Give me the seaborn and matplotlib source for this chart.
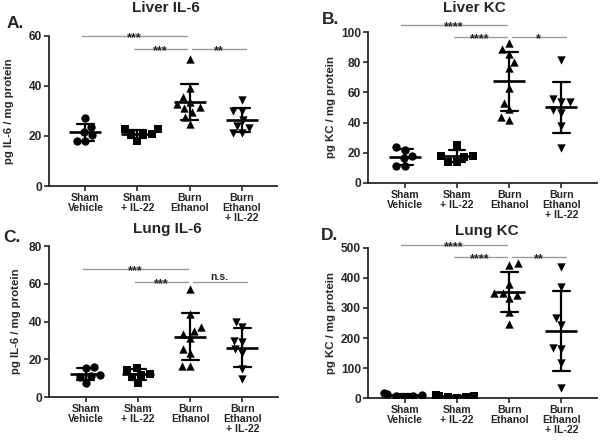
import numpy as np
import pandas as pd
import matplotlib
matplotlib.use("Agg")
import matplotlib.pyplot as plt
import seaborn as sns

# ---------------- data ----------------
groups = ["Sham\nVehicle", "Sham\n+ IL-22", "Burn\nEthanol", "Burn\nEthanol\n+ IL-22"]
group_markers = ["o", "s", "^", "v"]

liver_il6_sham_vehicle = [27.1, 23.7, 20.4, 21.7, 18.1, 18.1]
liver_il6_sham_il22 = [20.7, 22.7, 22.7, 18.1, 20.4, 20.7]
liver_il6_burn_ethanol = [50.7, 39.1, 35.5, 32.7, 31.1, 29.7, 31.5, 33.5, 27.7, 24.8]
liver_il6_burn_ethanol_il22 = [34.4, 30.1, 30.1, 26.4, 23.1, 24.0, 21.1, 21.1]

liver_kc_sham_vehicle = [22.0, 24.0, 16.5, 17.5, 11.0, 11.0]
liver_kc_sham_il22 = [25.0, 17.0, 18.0, 14.0, 14.0, 17.5]
liver_kc_burn_ethanol = [92.7, 88.7, 85.4, 80.5, 76.0, 62.8, 53.2, 48.8, 41.7, 43.5]
liver_kc_burn_ethanol_il22 = [81.6, 53.7, 53.7, 55.7, 46.1, 48.3, 37.7, 23.3]

lung_il6_sham_vehicle = [16.1, 15.2, 11.1, 11.7, 10.8, 7.6]
lung_il6_sham_il22 = [15.6, 14.3, 11.7, 12.2, 10.8, 7.6]
lung_il6_burn_ethanol = [57.2, 44.1, 37.3, 35.2, 33.4, 31.1, 25.3, 23.2, 16.5, 16.5]
lung_il6_burn_ethanol_il22 = [40.0, 37.0, 29.9, 29.4, 25.3, 23.5, 14.7, 9.4]

lung_kc_sham_vehicle = [3, 6, 9, 11, 13, 16]
lung_kc_sham_il22 = [2, 4, 5, 7, 8, 10]
lung_kc_burn_ethanol = [442, 450, 378, 350, 343, 350, 332, 287, 247]
lung_kc_burn_ethanol_il22 = [437, 370, 265, 243, 163, 166, 118, 35]

titles = ["Liver IL-6", "Liver KC", "Lung IL-6", "Lung KC"]
panel_letters = ["A.", "B.", "C.", "D."]
ylabels = ["pg IL-6 / mg protein", "pg KC / mg protein",
           "pg IL-6 / mg protein", "pg KC / mg protein"]
ylims = [60, 100, 80, 500]
ytick_steps = [20, 20, 20, 100]

# significance comparisons: (group i, group j, height, label)
liver_il6_sig = [(0, 2, 60, "***"), (1, 2, 54.8, "***"), (2, 3, 54.8, "**")]
liver_kc_sig = [(0, 2, 105, "****"), (1, 2, 97, "****"), (2, 3, 97, "*")]
lung_il6_sig = [(0, 2, 68, "***"), (1, 2, 61.2, "***"), (2, 3, 61.2, "n.s.")]
lung_kc_sig = [(0, 2, 509, "****"), (1, 2, 468, "****"), (2, 3, 468, "**")]

panels = [
    [liver_il6_sham_vehicle, liver_il6_sham_il22, liver_il6_burn_ethanol, liver_il6_burn_ethanol_il22],
    [liver_kc_sham_vehicle, liver_kc_sham_il22, liver_kc_burn_ethanol, liver_kc_burn_ethanol_il22],
    [lung_il6_sham_vehicle, lung_il6_sham_il22, lung_il6_burn_ethanol, lung_il6_burn_ethanol_il22],
    [lung_kc_sham_vehicle, lung_kc_sham_il22, lung_kc_burn_ethanol, lung_kc_burn_ethanol_il22],
]
sigs = [liver_il6_sig, liver_kc_sig, lung_il6_sig, lung_kc_sig]

# ---------------- style ----------------
sns.set_style("ticks")
plt.rcParams["font.family"] = ["Liberation Sans", "DejaVu Sans"]
plt.rcParams["font.weight"] = "bold"
plt.rcParams["axes.labelweight"] = "bold"

W, H = 600, 442
fig = plt.figure(figsize=(6.0, 4.42), dpi=100)

# axes boxes in pixels: left, top, right, bottom
boxes = [(49, 36, 277, 186), (368, 32.3, 597, 182.7),
         (49.3, 246.3, 278, 397), (368, 247.7, 597, 398.3)]
title_pos = [(165.5, 8), (474.5, 8), (167.5, 229), (486.5, 231)]
letter_pos = [(15, 24), (331, 19), (12, 237), (330, 236)]
ylabel_x = [-0.152, -0.138, -0.124, -0.138]

for k in range(4):
    l, t, r, b = boxes[k]
    ax = fig.add_axes([l / W, 1 - b / H, (r - l) / W, (b - t) / H])
    rows = []
    for gi, vals in enumerate(panels[k]):
        for v in vals:
            rows.append({"group": groups[gi], "value": v})
    df = pd.DataFrame(rows)

    for gi, g in enumerate(groups):
        sns.swarmplot(data=df[df["group"] == g], x="group", y="value", order=groups,
                      marker=group_markers[gi], color="black", size=6.0, ax=ax,
                      linewidth=0, zorder=3)
    sns.pointplot(data=df, x="group", y="value", order=groups, errorbar="sd",
                  capsize=0.32, color="black", marker="_", markersize=23,
                  markeredgewidth=1.9, linestyle="none",
                  err_kws={"linewidth": 1.6}, ax=ax, zorder=4)

    ax.set_xlim(-0.7, 3.68)
    ax.set_ylim(0, ylims[k])
    ax.set_yticks(np.arange(0, ylims[k] + 1, ytick_steps[k]))
    ax.set_xlabel("")
    ax.set_ylabel(ylabels[k], fontsize=8.2, fontweight="bold")
    ax.yaxis.set_label_coords(ylabel_x[k], 0.5)
    sns.despine(ax=ax)
    for sp in ["left", "bottom"]:
        ax.spines[sp].set_linewidth(1.3)
    ax.tick_params(axis="both", direction="out", length=3.5, width=1.2, pad=1.5)
    ax.tick_params(axis="y", labelsize=8.6)
    ax.tick_params(axis="x", labelsize=7.6)
    for lab in ax.get_xticklabels():
        lab.set_fontweight("bold")
        lab.set_linespacing(1.0)
    for lab in ax.get_yticklabels():
        lab.set_fontweight("bold")

    # significance bars
    for (i, j, h, txt) in sigs[k]:
        x0 = i + (0.05 if i == 2 else -0.06)
        x1 = j + (-0.05 if j == 2 else 0.08)
        ax.plot([x0, x1], [h, h], color="#9a9a9a", lw=1.0, clip_on=False, zorder=2)
        if txt == "n.s.":
            ax.annotate(txt, xy=((x0 + x1) / 2, h), xytext=(0, 1.5),
                        textcoords="offset points", ha="center", va="baseline",
                        fontsize=7.5, fontweight="bold", color="#222222",
                        annotation_clip=False)
        else:
            ax.annotate(txt, xy=((x0 + x1) / 2, h), xytext=(0, -3.6),
                        textcoords="offset points", ha="center", va="baseline",
                        fontsize=9, fontweight="bold", color="#222222",
                        annotation_clip=False)

    tx, ty = title_pos[k]
    fig.text(tx / W, 1 - ty / H, titles[k], ha="center", va="center",
             fontsize=11, fontweight="bold")
    lx, ly = letter_pos[k]
    fig.text(lx / W, 1 - ly / H, panel_letters[k], ha="center", va="center",
             fontsize=12.5, fontweight="bold")

fig.savefig("out.png", dpi=100)
